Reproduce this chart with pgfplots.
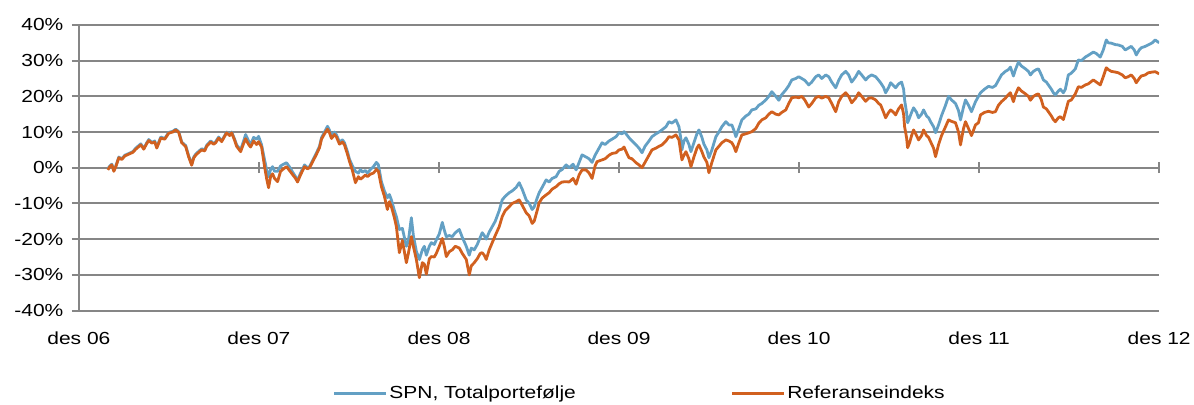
\documentclass[border=0pt]{standalone}
\usepackage{pgfplots}
\pgfplotsset{compat=1.18}
\usepackage{pgfplotstable}
\usepackage{fontspec}
\setmainfont{Liberation Sans}[FakeStretch=1.2]
\definecolor{gridgray}{RGB}{134,134,134}
\definecolor{spnblue}{RGB}{99,160,196}
\definecolor{reforange}{RGB}{209,96,31}
\newcommand{\chartfont}{\fontsize{17.5}{20}\selectfont}

% t = horizontal position (des 06 = 79, des 12 = 1161; one year = 180.33)
\pgfplotstableread{
t spn ref
108 -0.3 -0.6
110 0.5 0.3
112 1.0 0.8
114 -0.8 -1.0
116 0.5 0.3
119 3.0 2.8
122 2.5 2.3
125 3.5 3.3
129 4.0 3.8
133 4.5 4.3
136 5.5 5.2
141 6.7 6.4
144 5.4 5.2
147 7.0 6.8
149 7.9 7.6
152 7.1 6.9
155 7.5 7.2
157 5.8 5.5
161 8.6 8.3
165 8.2 8.0
169 9.9 9.7
173 10.2 10.0
176 10.8 10.6
179 10.1 9.9
182 7.2 7.0
186 6.2 5.9
189 3.3 3.0
192 1.0 0.7
194 3.0 2.7
196 3.8 3.5
199 4.6 4.3
202 5.3 5.0
205 5.0 4.7
207 6.3 6.0
211 7.5 7.2
214 6.8 6.6
216 7.3 7.0
219 8.6 8.3
222 7.5 7.3
225 9.0 8.8
227 10.0 9.8
230 9.2 9.0
232 10.0 9.8
235 8.0 7.7
237 6.4 6.0
241 5.0 4.5
244 7.5 6.8
246 9.3 8.1
249 7.5 6.5
251 6.5 5.8
254 8.5 7.5
257 8.0 6.5
259 8.8 7.3
262 6.4 5.8
265 2.2 0.3
267 -0.5 -3.0
269 -2.5 -5.6
271 -0.5 -2.5
273 0.3 -1.7
275 -1.0 -3.0
278 -1.0 -3.9
281 0.5 -1.0
284 1.0 -0.3
287 1.4 0.3
290 0.2 -0.8
293 -1.2 -1.9
296 -2.5 -3.0
298 -3.6 -4.0
301 -1.5 -2.0
305 0.8 0.3
308 0.0 -0.3
310 0.3 0.0
313 2.0 1.6
317 4.2 3.8
320 6.0 5.6
322 8.4 8.0
325 10.0 9.5
328 11.6 10.8
330 10.5 9.8
332 8.8 8.2
335 10.0 9.3
337 9.2 8.6
340 7.2 6.6
343 7.8 7.2
345 7.0 6.4
348 4.5 3.8
350 2.4 1.8
353 0.5 -0.8
356 -1.0 -4.2
359 -1.5 -2.5
361 -0.5 -3.2
363 -1.2 -2.8
366 -0.8 -2.0
368 -1.5 -2.5
371 -0.5 -1.8
374 0.3 -1.5
377 1.5 -0.5
379 0.8 -1.0
382 -3.9 -5.3
385 -6.5 -8.0
388 -8.4 -11.7
390 -7.5 -9.5
392 -9.0 -10.9
395 -12.0 -14.0
397 -13.7 -16.5
400 -17.3 -23.8
403 -17.0 -20.4
405 -19.5 -23.5
407 -22.0 -26.6
409 -20.5 -24.0
412 -14.0 -19.3
414 -19.0 -22.0
417 -23.4 -25.7
420 -25.7 -30.8
423 -23.0 -26.6
425 -22.0 -27.0
427 -24.5 -29.8
430 -22.0 -25.5
432 -21.0 -24.9
435 -21.5 -25.0
437 -20.2 -24.0
440 -18.5 -22.0
443 -15.3 -19.8
445 -17.5 -22.0
447 -19.3 -24.9
450 -19.0 -23.5
453 -19.3 -23.0
456 -18.2 -22.0
460 -17.3 -22.5
463 -19.5 -24.0
467 -22.0 -25.7
470 -24.5 -30.0
472 -22.5 -27.5
475 -23.0 -26.6
478 -21.5 -25.5
481 -19.5 -24.0
483 -18.2 -23.8
485 -19.0 -24.5
487 -20.0 -25.7
490 -18.0 -23.0
493 -16.5 -21.0
496 -15.0 -19.0
500 -12.0 -16.5
503 -9.0 -13.7
506 -8.0 -12.0
510 -7.0 -10.9
513 -6.5 -10.0
517 -5.5 -9.5
520 -4.2 -9.0
523 -6.0 -10.5
527 -9.0 -12.6
530 -10.0 -13.5
533 -11.7 -15.6
535 -11.0 -15.0
538 -8.5 -12.0
540 -7.0 -9.8
543 -5.5 -8.5
547 -3.4 -7.6
550 -4.0 -7.0
553 -3.0 -6.0
557 -2.5 -5.3
560 -1.0 -4.5
563 -0.5 -4.0
567 0.8 -3.9
570 0.0 -4.0
574 1.0 -3.0
577 -0.6 -4.6
580 1.5 -2.0
583 3.6 -0.6
587 3.0 -0.6
590 2.5 -1.5
593 1.5 -3.0
596 3.5 0.5
598 4.5 1.7
601 6.0 2.0
603 7.0 2.2
606 6.5 2.5
610 7.5 3.5
613 8.0 4.0
617 8.7 4.2
620 9.8 5.0
623 9.5 5.2
625 10.1 5.8
627 9.5 4.5
630 8.4 2.8
633 7.5 2.5
637 6.4 1.4
640 5.5 0.8
643 4.2 0.0
646 6.0 1.5
650 7.5 3.5
653 8.7 5.0
657 9.5 5.5
660 10.0 6.0
663 10.6 6.4
667 11.5 7.5
670 12.9 8.7
673 12.5 8.5
677 13.4 9.2
680 11.5 7.8
682 8.0 4.0
683 5.0 2.2
685 7.5 3.5
687 8.4 4.5
690 6.5 2.5
692 4.5 0.3
695 7.0 3.0
698 9.5 5.5
700 10.6 6.4
703 8.5 4.5
705 6.6 3.0
708 5.0 1.5
710 2.8 -1.4
713 5.0 1.5
717 8.7 5.0
720 10.0 6.0
723 11.5 7.0
727 12.9 7.8
730 12.0 7.5
733 12.0 7.0
735 10.5 6.0
737 8.7 4.5
740 11.0 7.0
743 13.4 9.2
747 14.5 9.5
750 15.0 9.8
753 16.2 10.1
757 16.5 11.0
760 17.5 12.5
763 18.0 13.4
767 19.0 14.0
770 20.0 15.0
773 21.3 15.7
777 20.0 15.0
780 18.9 14.8
783 20.5 15.5
787 21.8 16.2
790 23.0 18.0
793 24.6 19.6
797 25.0 19.8
800 25.5 19.6
803 25.0 20.0
806 24.5 19.0
810 23.2 17.0
813 24.0 18.0
817 25.5 19.6
820 26.0 20.0
823 25.0 19.5
827 26.0 20.0
830 25.5 19.6
833 24.0 18.0
837 22.4 15.7
840 24.5 18.5
843 26.0 20.0
847 27.0 21.0
850 26.0 20.0
853 24.0 18.2
857 25.5 19.5
860 27.0 21.0
863 26.0 20.0
867 24.6 18.6
870 25.5 19.5
873 26.0 19.6
877 25.5 19.0
880 24.5 18.0
882 23.8 17.6
885 22.5 15.5
887 21.0 14.0
890 22.5 15.5
892 23.8 16.2
895 23.0 15.5
897 22.4 14.8
900 23.5 16.5
903 24.0 17.6
905 22.0 15.0
906 19.0 11.5
908 15.4 8.4
909 12.6 5.6
911 14.0 7.0
913 15.5 9.0
915 16.8 10.6
918 15.5 9.0
920 14.0 7.8
923 15.0 9.0
925 16.2 10.6
928 14.5 9.0
930 14.0 8.5
932 12.9 7.3
935 11.5 5.5
937 9.8 3.1
940 12.0 6.5
943 14.6 9.0
947 17.5 11.5
950 20.0 13.4
953 19.0 13.0
957 18.0 12.6
960 16.0 10.0
962 13.4 6.4
965 17.0 11.0
967 19.0 12.9
970 17.5 11.0
973 15.7 9.0
977 18.5 12.0
980 20.0 12.6
982 21.0 14.8
986 22.0 15.5
990 22.8 15.8
994 22.5 15.5
997 23.0 15.7
1000 24.5 17.5
1003 26.0 18.5
1007 27.0 19.5
1010 27.5 20.5
1012 28.2 21.0
1015 25.7 18.5
1017 27.5 20.5
1020 29.6 22.4
1023 28.5 21.5
1027 27.7 20.7
1030 27.0 20.0
1032 26.0 18.9
1035 27.0 20.0
1038 27.5 20.5
1040 27.7 20.7
1043 26.0 19.0
1045 24.6 17.0
1048 24.0 16.5
1050 23.2 15.7
1053 22.0 14.5
1055 21.0 13.5
1057 20.4 12.9
1060 21.5 14.0
1062 22.0 14.3
1065 21.0 13.5
1067 22.0 15.5
1070 26.0 18.6
1073 26.5 19.0
1077 27.7 20.7
1080 30.2 22.7
1083 30.0 22.5
1087 31.0 23.2
1090 31.5 23.5
1095 32.4 24.6
1098 32.0 24.0
1102 31.0 23.2
1105 33.0 25.5
1108 35.8 28.0
1110 35.0 27.5
1113 34.9 27.0
1117 34.5 26.8
1120 34.4 26.6
1124 34.0 26.0
1127 33.0 25.2
1130 33.5 25.5
1133 34.0 26.0
1136 33.0 25.0
1138 31.6 23.8
1141 33.0 25.0
1143 33.6 25.7
1147 34.0 26.0
1150 34.4 26.6
1154 35.0 26.8
1157 35.8 26.9
1161 35.0 26.3
}\datatable

\begin{document}
\begin{tikzpicture}
% tick marks on the zero line
\begin{axis}[
  at={(0,0)}, anchor=south west, scale only axis,
  width=1082pt, height=286pt,
  xmin=79, xmax=1161, ymin=-40, ymax=40,
  axis x line=middle, axis y line=none,
  axis line style={draw=none},
  xtick={79,259.33,439.67,620,800.33,980.67,1161},
  xticklabels={},
  tick align=center,
  major tick length=11pt,
  every tick/.style={gridgray, line width=1.8pt},
]
\addplot[draw=none] coordinates {(79,0) (1161,0)};
\end{axis}
% main axis
\begin{axis}[
  at={(0,0)}, anchor=south west, scale only axis,
  width=1082pt, height=286pt,
  xmin=79, xmax=1161, ymin=-40, ymax=40,
  axis lines*=left,
  axis line style={gridgray, line width=2pt, -},
  ytick={-40,-30,...,40},
  yticklabels={-40\%,-30\%,-20\%,-10\%,0\%,10\%,20\%,30\%,40\%},
  xtick={79,259.33,439.67,620,800.33,980.67,1161},
  xticklabels={des 06,des 07,des 08,des 09,des 10,des 11,des 12},
  x tick style={draw=none},
  y tick style={gridgray, line width=2pt},
  tick align=outside,
  major tick length=7pt,
  ymajorgrids,
  grid style={gridgray, line width=2pt},
  tick label style={font=\chartfont},
  xticklabel style={yshift=-11pt},
  yticklabel style={xshift=-5pt},
  legend style={at={(0.232,-0.29)}, anchor=west, draw=none, fill=none,
    font=\chartfont, legend columns=2,
    /tikz/every even column/.append style={column sep=153pt}},
  legend image code/.code={\draw[#1] (0pt,0pt) -- (52pt,0pt);},
]
\addplot[spnblue, line width=2.8pt, line join=round] table[x=t, y=spn] {\datatable};
\addlegendentry{SPN, Totalportefølje}
\addplot[reforange, line width=2.8pt, line join=round] table[x=t, y=ref] {\datatable};
\addlegendentry{Referanseindeks}
\end{axis}
\path (-79pt,-92pt) rectangle (1115pt,311pt);
\end{tikzpicture}
\end{document}
